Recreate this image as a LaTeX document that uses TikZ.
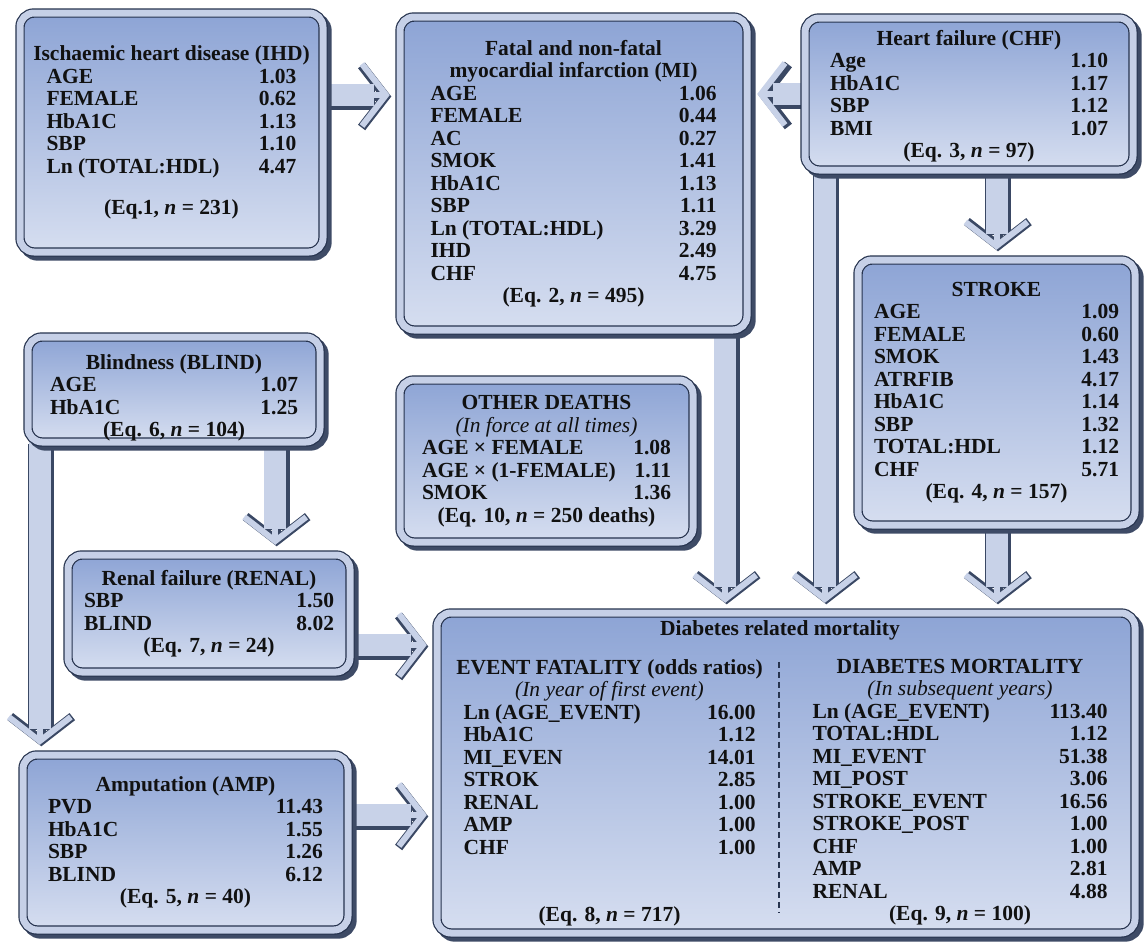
\documentclass[tikz,border=0pt]{standalone}
\usepackage{fontspec}
\setmainfont{Liberation Serif}
\usepackage{xcolor}
\usetikzlibrary{arrows.meta, positioning, backgrounds}

\definecolor{panelTop}{HTML}{8DA4D5}
\definecolor{panelBot}{HTML}{D6DEF0}
\definecolor{frameLight}{HTML}{C6D0E7}
\definecolor{frameDark}{HTML}{26334E}
\definecolor{shade}{HTML}{3E4B66}
\definecolor{flowFill}{HTML}{C8D2E8}
\definecolor{flowEdge}{HTML}{3A4864}
\definecolor{ink}{HTML}{111111}

\newlength\rowwd
\newcommand{\rw}[2]{\makebox[\rowwd]{#1\hfill #2}}

\begin{document}
\begin{tikzpicture}[
    x=1pt, y=-1pt,
    panel/.style={rectangle, rounded corners=14pt, align=center, inner sep=0pt, text=ink, font=\fontsize{21.5}{22.5}\selectfont\bfseries,
        preaction={fill=shade, draw=shade, line width=9.4pt, transform canvas={shift={(4pt,-4pt)}}},
        preaction={top color=panelTop, bottom color=panelBot},
        postaction={draw=frameDark, double=frameLight, double distance=7pt, line width=1.2pt}},
    txt/.style={align=center, inner sep=0pt, text=ink, font=\fontsize{21.5}{22.5}\selectfont\bfseries},
    rowwidth/.code={\setlength\rowwd{#1}},
    flow/.style={
        preaction={draw=flowEdge, line width=26pt, shorten >=26pt, transform canvas={shift={(1.5pt,-1.5pt)}}},
        preaction={draw=flowEdge, line width=9pt, shorten >=10pt, transform canvas={shift={(1.5pt,-1.5pt)}}, -{Straight Barb[length=24pt, width=62pt]}},
        draw=flowFill, line width=22pt, shorten >=26pt,
        postaction={draw=flowFill, line width=6pt, shorten >=10pt, -{Straight Barb[length=24pt, width=62pt]}}},
    divider/.style={draw=frameDark, line width=2pt, dash pattern=on 6pt off 4pt}
]
\useasboundingbox (0,0) rectangle (1146,945);

% Top row
\node[panel, minimum width=303pt, minimum height=239pt, rowwidth=250pt] (ihd) at (171.5,132.5)
  {Ischaemic heart disease (IHD)\\
   \rw{AGE}{1.03}\\ \rw{FEMALE}{0.62}\\ \rw{HbA1C}{1.13}\\ \rw{SBP}{1.10}\\
   \rw{Ln (TOTAL:HDL)}{4.47}\\[19pt]
   (Eq.1, \textit{n} = 231)};
\node[panel, minimum width=347pt, minimum height=313pt, rowwidth=286pt] (mi) at (573.5,173.5)
  {Fatal and non-fatal\\ myocardial infarction (MI)\\
   \rw{AGE}{1.06}\\ \rw{FEMALE}{0.44}\\ \rw{AC}{0.27}\\ \rw{SMOK}{1.41}\\
   \rw{HbA1C}{1.13}\\ \rw{SBP}{1.11}\\ \rw{Ln (TOTAL:HDL)}{3.29}\\
   \rw{IHD}{2.49}\\ \rw{CHF}{4.75}\\
   (Eq. 2, \textit{n} = 495)};
\node[panel, minimum width=328pt, minimum height=152pt, rowwidth=278pt] (chf) at (969,94)
  {\rule{0pt}{20pt}Heart failure (CHF)\\
   \rw{Age}{1.10}\\ \rw{HbA1C}{1.17}\\ \rw{SBP}{1.12}\\ \rw{BMI}{1.07}\\
   (Eq. 3, \textit{n} = 97)};

% Middle
\node[panel, minimum width=277pt, minimum height=265pt, rowwidth=245pt] (stroke) at (996.5,392.5)
  {STROKE\\
   \rw{AGE}{1.09}\\ \rw{FEMALE}{0.60}\\ \rw{SMOK}{1.43}\\ \rw{ATRFIB}{4.17}\\
   \rw{HbA1C}{1.14}\\ \rw{SBP}{1.32}\\ \rw{TOTAL:HDL}{1.12}\\ \rw{CHF}{5.71}\\
   (Eq. 4, \textit{n} = 157)};
\node[panel, minimum width=292pt, minimum height=105pt, rowwidth=248pt] (blind) at (174,389.5)
  {\rule{0pt}{32pt}Blindness (BLIND)\\
   \rw{AGE}{1.07}\\ \rw{HbA1C}{1.25}\\
   (Eq. 6, \textit{n} = 104)};
\node[panel, minimum width=293pt, minimum height=162pt, rowwidth=249pt] (other) at (546.5,461)
  {OTHER DEATHS\\ \textmd{\textit{(In force at all times)}}\\
   \rw{AGE × FEMALE}{1.08}\\ \rw{AGE × (1-FEMALE)}{1.11}\\ \rw{SMOK}{1.36}\\
   (Eq. 10, \textit{n} = 250 deaths)};

% Bottom left
\node[panel, minimum width=282pt, minimum height=117pt, rowwidth=250pt] (renal) at (209,613.5)
  {Renal failure (RENAL)\\
   \rw{SBP}{1.50}\\ \rw{BLIND}{8.02}\\
   (Eq. 7, \textit{n} = 24)};
\node[panel, minimum width=325pt, minimum height=175pt, rowwidth=275pt] (amp) at (185.5,842.5)
  {Amputation (AMP)\\
   \rw{PVD}{11.43}\\ \rw{HbA1C}{1.55}\\ \rw{SBP}{1.26}\\ \rw{BLIND}{6.12}\\
   (Eq. 5, \textit{n} = 40)};

% Bottom right: mortality
\node[panel, minimum width=698pt, minimum height=320pt] (dm) at (786,773) {};
\node[txt, anchor=base] (dmtitle) at (780,635) {Diabetes related mortality};
\node[txt, anchor=north, rowwidth=292pt] (fatal) at (609.5,659)
  {EVENT FATALITY (odds ratios)\\ \textmd{\textit{(In year of first event)}}\\
   \rw{Ln (AGE\_EVENT)}{16.00}\\ \rw{HbA1C}{1.12}\\ \rw{MI\_EVEN}{14.01}\\
   \rw{STROK}{2.85}\\ \rw{RENAL}{1.00}\\ \rw{AMP}{1.00}\\ \rw{CHF}{1.00}\\[45pt]
   (Eq. 8, \textit{n} = 717)};
\node[txt, anchor=north, rowwidth=295pt] (later) at (960,659)
  {DIABETES MORTALITY\\ \textmd{\textit{(In subsequent years)}}\\
   \rw{Ln (AGE\_EVENT)}{113.40}\\ \rw{TOTAL:HDL}{1.12}\\ \rw{MI\_EVENT}{51.38}\\
   \rw{MI\_POST}{3.06}\\ \rw{STROKE\_EVENT}{16.56}\\ \rw{STROKE\_POST}{1.00}\\
   \rw{CHF}{1.00}\\ \rw{AMP}{2.81}\\ \rw{RENAL}{4.88}\\
   (Eq. 9, \textit{n} = 100)};
\draw[divider] ([xshift=-7pt,yshift=-49pt]dm.north) -- ([xshift=-7pt,yshift=20pt]dm.south);

% Arrows, behind the boxes
\begin{scope}[on background layer]
\fill[white] (0,0) rectangle (1146,945);
\draw[flow] ([yshift=37.5pt]ihd.east) -- ([yshift=37.5pt]ihd.east -| mi.west);
\draw[flow] (chf.west) -- (chf.west -| mi.east);
\draw[flow] (chf.south -| stroke.north) -- (stroke.north);
\draw[flow] ([xshift=20pt]chf.south west) -- ([xshift=20pt]chf.south west |- dm.north);
\draw[flow] ([xshift=-22pt]mi.south east) -- ([xshift=-22pt]mi.south east |- dm.north);
\draw[flow] (stroke.south) -- (stroke.south |- dm.north);
\draw[flow] ([xshift=-45pt]blind.south east) -- ([xshift=-45pt]blind.south east |- renal.north);
\draw[flow] ([xshift=12pt]blind.south west) -- ([xshift=12pt]blind.south west |- amp.north);
\draw[flow] ([yshift=-31.5pt]renal.east) -- ([yshift=-31.5pt]renal.east -| dm.west);
\draw[flow] ([yshift=27.5pt]amp.east) -- ([yshift=27.5pt]amp.east -| dm.west);
\end{scope}

\end{tikzpicture}
\end{document}
